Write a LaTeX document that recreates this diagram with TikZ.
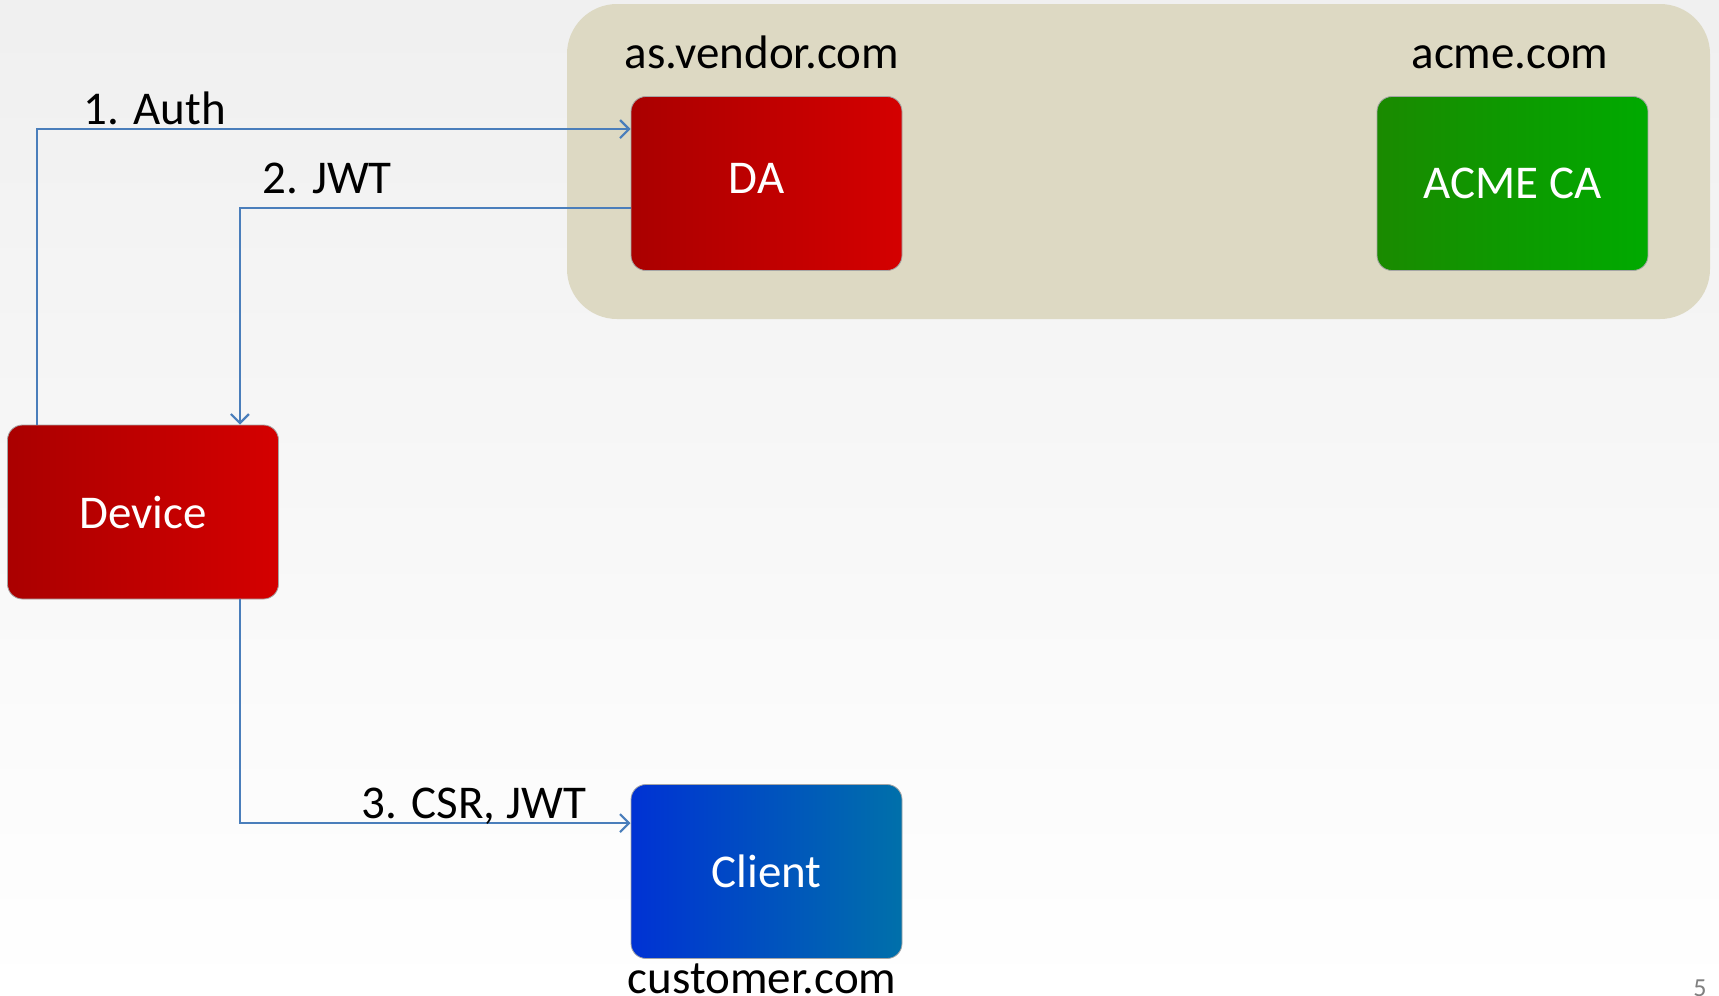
\documentclass[tikz,border=0pt]{standalone}
\usepackage{fontspec}
\setmainfont{Carlito}
\usetikzlibrary{arrows.meta,calc}
\definecolor{linkblue}{RGB}{74,126,187}
\definecolor{zonetan}{RGB}{221,217,195}
\definecolor{redL}{RGB}{170,0,0}
\definecolor{redR}{RGB}{212,0,0}
\definecolor{greenL}{RGB}{26,138,0}
\definecolor{greenR}{RGB}{0,170,0}
\definecolor{blueL}{RGB}{0,50,212}
\definecolor{blueR}{RGB}{0,112,170}
\tikzset{
  box/.style={rectangle, rounded corners=7.5pt, minimum width=135.5pt, minimum height=87pt,
    draw=black!35, line width=0.4pt, text=white, font=\fontsize{23.5}{28}\selectfont, inner sep=0pt},
  redbox/.style={box, left color=redL, right color=redR},
  greenbox/.style={box, left color=greenL, right color=greenR},
  bluebox/.style={box, left color=blueL, right color=blueR},
  caption/.style={font=\fontsize{23.5}{28}\selectfont, text=black, inner sep=0pt, anchor=base},
  flow/.style={draw=linkblue, line width=1pt, -{Straight Barb[length=4.5pt,width=9pt,line width=1.1pt]}},
}
\begin{document}
\begin{tikzpicture}[x=0.5pt,y=-0.5pt]
  % page and background
  \useasboundingbox (0,0) rectangle (1719,996);
  \shade[top color=black!6, bottom color=white] (0,0) rectangle (1719,996);

  % server zone
  \fill[zonetan, rounded corners=25pt] (567,4) rectangle (1710,319);
  \node[caption] (vendorlbl) at (762,68) {as.vendor.com};
  \node[caption] (acmelbl) at (1510,68) {acme.com};

  % parties
  \node[redbox] (da) at (766.5,183.5) {\raisebox{5pt}{DA}\kern10pt};
  \node[greenbox] (ca) at (1512.5,183.5) {ACME CA};
  \node[redbox] (dev) at (143,512) {Device};
  \node[bluebox] (cli) at (766.5,871.5) {Client};
  \node[caption] (custlbl) at (762,993) {customer.com};

  % attachment points
  \coordinate (authS) at ($(dev.north west)+(30,0)$);
  \coordinate (authE) at ($(da.north west)+(0,33)$);
  \coordinate (jwtS) at ($(da.north west)+(0,112)$);
  \coordinate (jwtE) at ($(dev.north east)+(-39,0)$);
  \coordinate (csrS) at ($(dev.south east)+(-39,0)$);
  \coordinate (csrE) at ($(cli.north west)+(0,39)$);

  % message flows
  \draw[flow] (authS) |- (authE);
  \draw[flow] (jwtS) -| (jwtE);
  \draw[flow] (csrS) |- (csrE);

  \node[caption] (l1) at (155,124) {1. Auth};
  \node[caption] (l2) at (327,193) {2. JWT};
  \node[caption] (l3) at (474,818) {3. CSR, JWT};

  % slide number
  \node[font=\fontsize{13}{15}\selectfont, text=black!50, inner sep=0pt, anchor=base] (pg) at (1700,996) {5};
\end{tikzpicture}
\end{document}
